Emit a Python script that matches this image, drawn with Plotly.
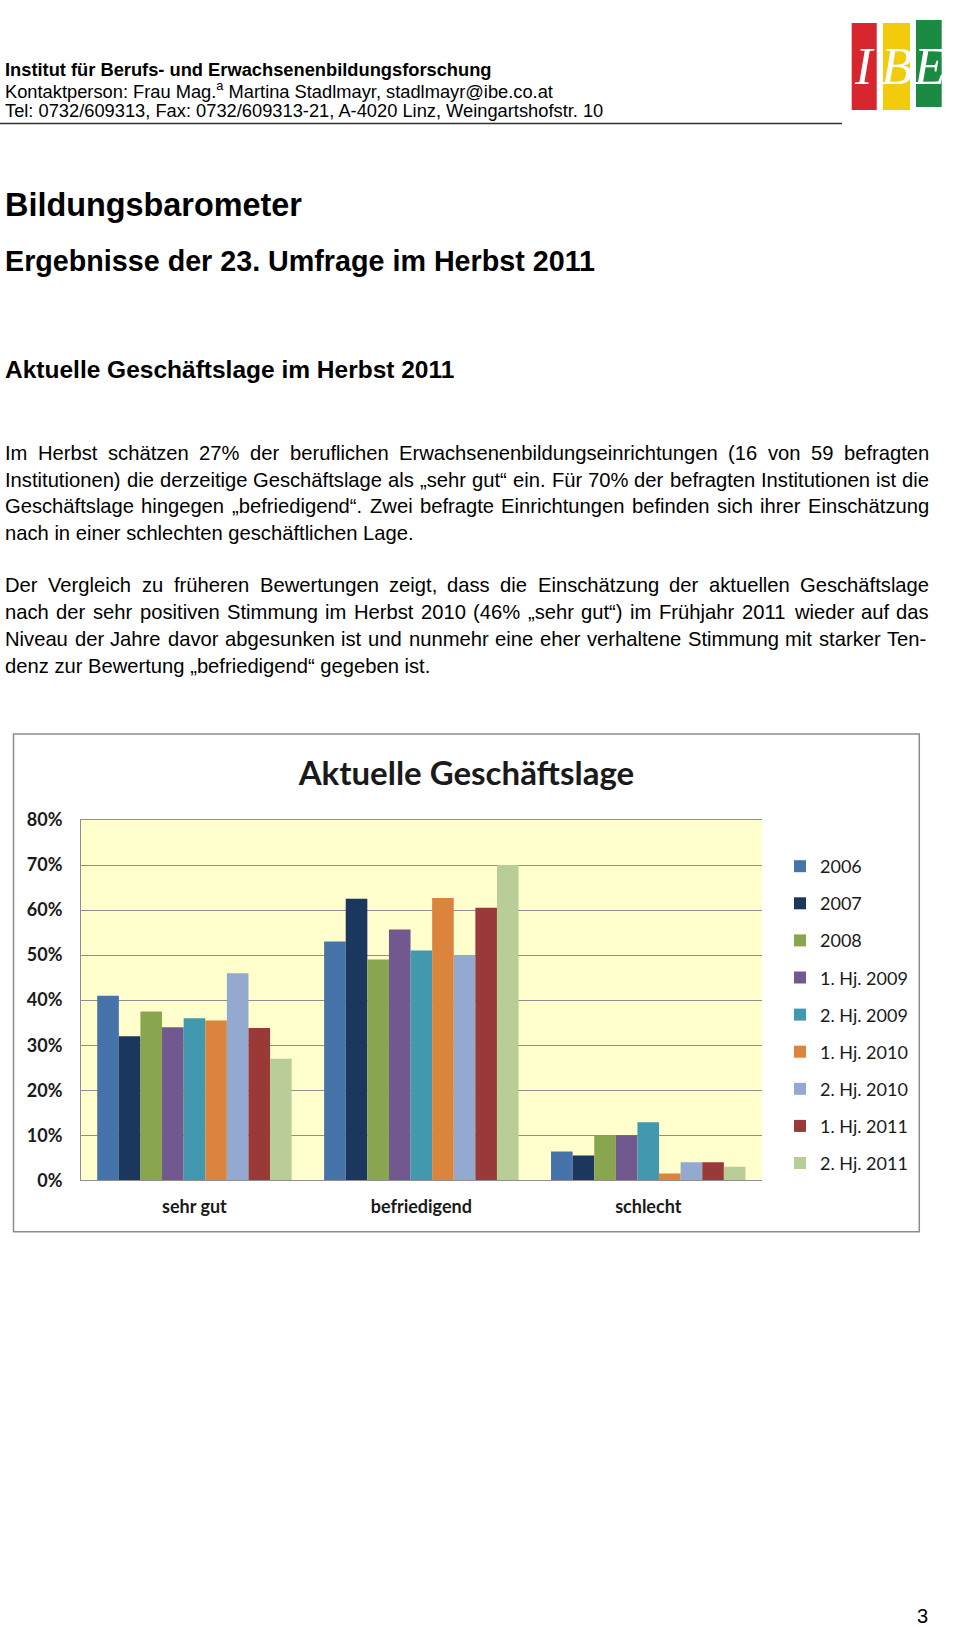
import plotly.graph_objects as go

W, H = 960, 1627


def px(x):
    return x / W


def py(y):
    return 1 - y / H


# ---------------- data ----------------
categories = ["sehr gut", "befriedigend", "schlecht"]
series_names = ["2006", "2007", "2008", "1. Hj. 2009", "2. Hj. 2009",
                "1. Hj. 2010", "2. Hj. 2010", "1. Hj. 2011", "2. Hj. 2011"]
v_2006 = [41.0, 53.0, 6.4]
v_2007 = [32.0, 62.5, 5.5]
v_2008 = [37.5, 49.0, 10.0]
v_2009_1 = [34.0, 55.7, 10.0]
v_2009_2 = [36.0, 51.0, 12.9]
v_2010_1 = [35.5, 62.7, 1.5]
v_2010_2 = [46.0, 50.0, 4.0]
v_2011_1 = [33.8, 60.5, 4.0]
v_2011_2 = [27.0, 70.0, 3.0]
series_values = [v_2006, v_2007, v_2008, v_2009_1, v_2009_2,
                 v_2010_1, v_2010_2, v_2011_1, v_2011_2]
series_colors = ["#4673AA", "#1B375E", "#89A54E", "#71588F", "#4198AF",
                 "#DB843D", "#93A9CF", "#9A3A38", "#B9CD96"]

header_lines = [
    "<b>Institut für Berufs- und Erwachsenenbildungsforschung</b>",
    "Kontaktperson: Frau Mag.<sup>a</sup> Martina Stadlmayr, stadlmayr@ibe.co.at",
    "Tel: 0732/609313, Fax: 0732/609313-21, A-4020 Linz, Weingartshofstr. 10",
]
body_lines = [
    "Im Herbst schätzen 27% der beruflichen Erwachsenenbildungseinrichtungen (16 von 59 befragten",
    "Institutionen) die derzeitige Geschäftslage als „sehr gut“ ein. Für 70% der befragten Institutionen ist die",
    "Geschäftslage hingegen „befriedigend“. Zwei befragte Einrichtungen befinden sich ihrer Einschätzung",
    "nach in einer schlechten geschäftlichen Lage.",
    "Der Vergleich zu früheren Bewertungen zeigt, dass die Einschätzung der aktuellen Geschäftslage",
    "nach der sehr positiven Stimmung im Herbst 2010 (46% „sehr gut“) im Frühjahr 2011 wieder auf das",
    "Niveau der Jahre davor abgesunken ist und nunmehr eine eher verhaltene Stimmung mit starker Ten-",
    "denz zur Bewertung „befriedigend“ gegeben ist.",
]
body_justify = [True, True, True, False, True, True, True, False]

# ---------------- helpers ----------------
ARIAL = {" ": 278, "%": 889, "(": 333, ")": 333, ",": 278, "-": 333, ".": 278,
         "/": 278, ":": 278, "„": 333, "“": 333, "”": 333,
         "A": 667, "B": 667, "C": 722, "D": 722, "E": 667, "F": 611, "G": 778,
         "H": 722, "I": 278, "J": 500, "K": 667, "L": 556, "M": 833, "N": 722,
         "O": 778, "P": 667, "R": 722, "S": 667, "T": 611, "U": 722, "V": 667,
         "W": 944, "Z": 611,
         "a": 556, "b": 556, "c": 500, "d": 556, "e": 556, "f": 278, "g": 556,
         "h": 556, "i": 222, "j": 222, "k": 500, "l": 222, "m": 833, "n": 556,
         "o": 556, "p": 556, "q": 556, "r": 333, "s": 500, "t": 278, "u": 556,
         "v": 500, "w": 722, "x": 500, "y": 500, "z": 500, "ä": 556, "ö": 556,
         "ü": 556, "ß": 611}


def tw(s, size):
    return sum(ARIAL.get(c, 556) for c in s) / 1000.0 * size


SANS = "Liberation Sans, Arial, sans-serif"
CAL = "Lato, Open Sans, sans-serif"
annotations = []


def add_text(x, y, text, size, bold=False, xanchor="left", family=SANS,
             color="#000000", italic=False):
    annotations.append(dict(
        x=px(x), y=py(y), xref="paper", yref="paper", text=text,
        showarrow=False, xanchor=xanchor, yanchor="middle",
        borderpad=0, borderwidth=0,
        font=dict(family=family, size=size, color=color,
                  weight="bold" if bold else "normal",
                  style="italic" if italic else "normal")))


# header
for txt, yy in zip(header_lines, [69.5, 90.3, 111.0]):
    add_text(5, yy, txt, 18.3)

# headings
add_text(5, 205, "Bildungsbarometer", 32.4, bold=True)
add_text(5, 260.5, "Ergebnisse der 23. Umfrage im Herbst 2011", 28.7, bold=True)
add_text(5, 369.5, "Aktuelle Geschäftslage im Herbst 2011", 24.5, bold=True)

# body text, justified between x=5 and x=929
BODY_SIZE = 20.2
body_y = [452.5, 479.5, 506.4, 533.4, 585.3, 612.3, 639.3, 666.3]
X0, X1 = 5.0, 929.0
for line, yy, just in zip(body_lines, body_y, body_justify):
    if not just:
        add_text(X0, yy, line, BODY_SIZE)
        continue
    words = line.split(" ")
    natural = sum(tw(w, BODY_SIZE) for w in words)
    gap = (X1 - X0 - natural) / (len(words) - 1)
    xx = X0
    for w in words:
        add_text(xx, yy, w, BODY_SIZE)
        xx += tw(w, BODY_SIZE) + gap

# page number
add_text(922.6, 1616, "3", 20, xanchor="center")

# logo letters
for letter, cx in zip(["I", "B", "E"], [864, 896.5, 929]):
    add_text(cx, 66, letter, 52, xanchor="center",
             family="Liberation Serif, DejaVu Serif, serif",
             color="white", italic=True)

shapes = [
    # header rule
    dict(type="line", xref="paper", yref="paper", x0=px(0), x1=px(842),
         y0=py(123.5), y1=py(123.5), line=dict(color="#303030", width=1.5)),
    # logo bars
    dict(type="rect", xref="paper", yref="paper", x0=px(851.7), x1=px(876.7),
         y0=py(110), y1=py(23), fillcolor="#D7262E", line=dict(width=0)),
    dict(type="rect", xref="paper", yref="paper", x0=px(883), x1=px(910),
         y0=py(110), y1=py(23), fillcolor="#F2CC0C", line=dict(width=0)),
    dict(type="rect", xref="paper", yref="paper", x0=px(916), x1=px(941.7),
         y0=py(107), y1=py(20), fillcolor="#1B8A43", line=dict(width=0)),
    # chart frame
    dict(type="rect", xref="paper", yref="paper", x0=px(13.5), x1=px(919.3),
         y0=py(1231.7), y1=py(734), fillcolor="rgba(0,0,0,0)",
         line=dict(color="#8C8C8C", width=1.5), layer="above"),
]

# ---------------- figure ----------------
fig = go.Figure()
for name, vals, col in zip(series_names, series_values, series_colors):
    fig.add_trace(go.Bar(x=categories, y=vals, name=name, marker_color=col,
                         marker_line_width=0, legendgroup=name))

GRID = "#8F8F8F"
tickfont = dict(family=CAL, size=18, color="#1A1A1A", weight="bold")
fig.update_layout(
    width=W, height=H,
    margin=dict(l=0, r=0, t=0, b=0, pad=0, autoexpand=False),
    paper_bgcolor="white",
    plot_bgcolor="#FFFECC",
    barmode="group", bargap=0.143, bargroupgap=0,
    title=dict(text="<b>Aktuelle Geschäftslage</b>", x=px(466.4), xanchor="center",
               xref="paper", yref="paper", y=py(773), yanchor="middle",
               font=dict(family=CAL, size=33, color="#1A1A1A")),
    xaxis=dict(domain=[px(81), px(761.7)], showline=True, mirror=True,
               linecolor=GRID, linewidth=1, showgrid=False, ticks="",
               tickfont=tickfont, ticklabelstandoff=10, fixedrange=True,
               automargin=False),
    yaxis=dict(domain=[py(1180.3), py(820)], range=[0, 80], dtick=10,
               ticksuffix="%", showgrid=True, gridcolor=GRID, gridwidth=1,
               zeroline=False, showline=True, linecolor=GRID, linewidth=1,
               ticks="", tickfont=tickfont, ticklabelstandoff=14,
               fixedrange=True, automargin=False),
    legend=dict(x=px(780), xanchor="left", y=py(848), yanchor="top",
                font=dict(family=CAL, size=18, color="#1A1A1A"),
                tracegroupgap=10.7, bgcolor="rgba(0,0,0,0)", borderwidth=0),
    showlegend=True,
    annotations=annotations,
    shapes=shapes,
)

fig.write_html(
    "out.html",
    config={"displayModeBar": False},
    post_script=(
        "document.body.style.margin='0';"
        "document.documentElement.style.overflow='hidden';"
        "var gdv=document.getElementsByClassName('plotly-graph-div')[0];"
        "gdv.style.position='absolute';gdv.style.top='0px';gdv.style.left='0px';"
    ),
)
